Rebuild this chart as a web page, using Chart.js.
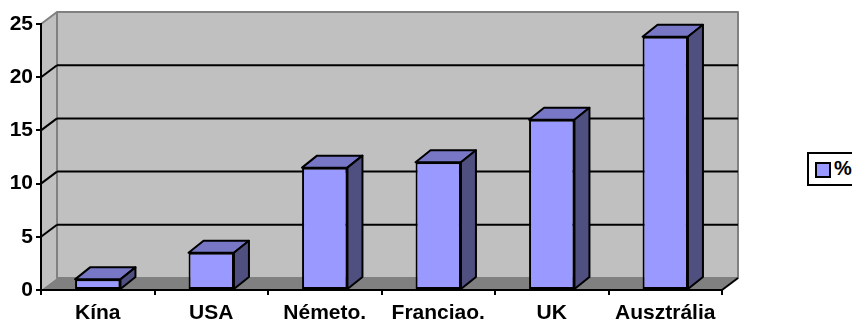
<!DOCTYPE html>
<html>
<head>
<meta charset="utf-8">
<script src="https://cdn.jsdelivr.net/npm/chart.js@4"></script>
<style>
    html, body { margin: 0; padding: 0; background: #fff; overflow: hidden; }
    #wrap { position: relative; width: 852px; height: 321px; overflow: hidden; }
    #legend {
        position: absolute; left: 807px; top: 152px; width: 60px; height: 30px;
        border: 2px solid #000; background: #fff; box-sizing: content-box;
        font: bold 20px "Liberation Sans", Arial, sans-serif; color: #000;
    }
    #legend i {
        position: absolute; left: 6px; top: 8px; width: 12px; height: 12px;
        border: 2px solid #000; background: #9999ff;
    }
    #legend span { position: absolute; left: 25px; top: 3px; }
</style>
</head>
<body>
<div id="wrap">
    <canvas id="chart" width="852" height="321"></canvas>
    <div id="legend"><i></i><span></span></div>
</div>
<script>
const categories = ["Kína", "USA", "Németo.", "Franciao.", "UK", "Ausztrália"];
const seriesName = "%";
const percentValues = [1, 3.5, 11.5, 12, 16, 23.8];
const yTicks = [0, 5, 10, 15, 20, 25];

const FONT = { family: '"Liberation Sans", Arial, sans-serif', size: 21, weight: "bold" };
const DEPTH_X = 15;
const DEPTH_Y = -12;

function poly(ctx, points, fill, stroke, width) {
    ctx.beginPath();
    points.forEach((p, i) => i ? ctx.lineTo(p[0], p[1]) : ctx.moveTo(p[0], p[1]));
    ctx.closePath();
    if (fill) {
        ctx.fillStyle = fill;
        ctx.fill();
    }
    if (stroke) {
        ctx.strokeStyle = stroke;
        ctx.lineWidth = width;
        ctx.lineJoin = "round";
        ctx.stroke();
    }
}

function line(ctx, x1, y1, x2, y2, color, width) {
    ctx.beginPath();
    ctx.moveTo(x1, y1);
    ctx.lineTo(x2, y2);
    ctx.strokeStyle = color;
    ctx.lineWidth = width;
    ctx.stroke();
}

/* walls, floor and gridlines behind the bars */
const walls = {
    id: "walls",
    beforeDraw(chart) {
        const { ctx, chartArea: a, scales: { y } } = chart;
        const top = y.getPixelForValue(yTicks[yTicks.length - 1]);
        const base = y.getPixelForValue(0);
        const dx = DEPTH_X + 1;

        ctx.save();
        poly(ctx, [[a.left, top], [a.left + dx, top + DEPTH_Y], [a.left + dx, base + DEPTH_Y], [a.left, base]], "#c0c0c0");
        poly(ctx, [[a.left + dx, top + DEPTH_Y], [a.right + dx, top + DEPTH_Y], [a.right + dx, base + DEPTH_Y], [a.left + dx, base + DEPTH_Y]], "#c0c0c0", "#808080", 2);
        poly(ctx, [[a.left, base], [a.left + dx, base + DEPTH_Y], [a.right + dx, base + DEPTH_Y], [a.right, base]], "#808080");

        line(ctx, a.left, top, a.left + dx, top + DEPTH_Y, "#808080", 2);
        line(ctx, a.right, base, a.right + dx, base + DEPTH_Y, "#000", 2);

        yTicks.slice(1, -1).forEach(v => {
            const py = y.getPixelForValue(v);
            line(ctx, a.left, py, a.left + dx, py + DEPTH_Y, "#000", 2);
            line(ctx, a.left + dx, py + DEPTH_Y, a.right + dx, py + DEPTH_Y, "#000", 2);
        });
        ctx.restore();
    },
    /* top and side faces of every bar */
    afterDatasetsDraw(chart) {
        const { ctx } = chart;
        ctx.save();
        chart.getDatasetMeta(0).data.forEach(bar => {
            const left = bar.x - bar.width / 2;
            const right = bar.x + bar.width / 2;
            poly(ctx, [[left, bar.y], [left + DEPTH_X, bar.y + DEPTH_Y], [right + DEPTH_X, bar.y + DEPTH_Y], [right, bar.y]], "#7777c6", "#000", 2);
            poly(ctx, [[right, bar.y], [right + DEPTH_X, bar.y + DEPTH_Y], [right + DEPTH_X, bar.base + DEPTH_Y], [right, bar.base]], "#4f4f80", "#000", 2);
        });
        ctx.restore();
    },
};

document.querySelector("#legend span").textContent = seriesName;

new Chart(document.getElementById("chart"), {
    type: "bar",
    data: {
        labels: categories,
        datasets: [{
            label: seriesName,
            data: percentValues,
            backgroundColor: "#9999ff",
            borderColor: "#000",
            borderWidth: 2,
            borderSkipped: false,
            barPercentage: 0.4,
            categoryPercentage: 1,
        }],
    },
    options: {
        responsive: false,
        animation: false,
        layout: { padding: { top: 24, right: 130, bottom: 0, left: 0 } },
        plugins: { legend: { display: false }, tooltip: { enabled: false } },
        scales: {
            x: {
                afterFit: scale => { scale.height = 31; },
                border: { color: "#000", width: 2 },
                grid: { drawOnChartArea: false, color: "#000", lineWidth: 2, tickLength: 5, offset: true },
                ticks: { color: "#000", font: FONT, maxRotation: 0, autoSkip: false, padding: 6 },
            },
            y: {
                min: 0,
                max: 25,
                afterFit: scale => { scale.width = 41; },
                border: { color: "#000", width: 2 },
                grid: { drawOnChartArea: false, color: "#000", lineWidth: 2, tickLength: 5 },
                ticks: { color: "#000", font: FONT, stepSize: 5, padding: 3 },
            },
        },
    },
    plugins: [walls],
});
</script>
</body>
</html>
